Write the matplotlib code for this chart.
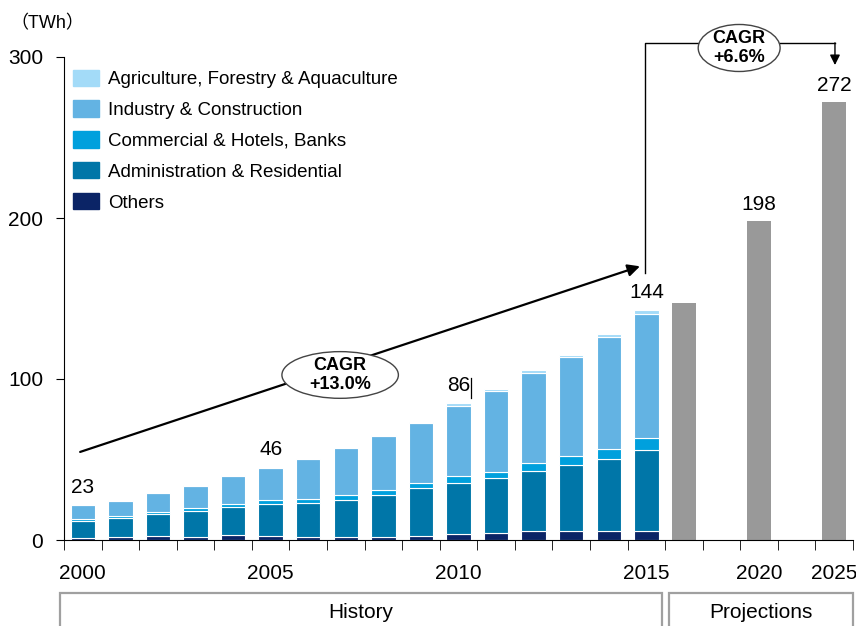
"""Vietnam electricity consumption by sector, history and projections."""

import matplotlib
matplotlib.use("Agg")
import matplotlib.pyplot as plt
import matplotlib.transforms as mtransforms
from matplotlib.patches import Ellipse, Rectangle, Patch
import numpy as np

plt.rcParams['font.family'] = ['Liberation Sans', 'Noto Sans CJK JP', 'DejaVu Sans']

# history (TWh), stacked bottom -> top
years = [str(y) for y in range(2000, 2016)]
others = [1.5, 1.6, 2.2, 2.0, 3.0, 2.4, 2.0, 2.0, 1.9, 2.4, 3.7, 4.2, 5.3, 5.3, 5.3, 5.8]
admin = [10.2, 12.0, 13.7, 16.0, 17.5, 20.0, 21.1, 23.0, 26.0, 30.2, 31.7, 34.2, 37.8, 41.2, 45.2, 50.3]
commercial = [1.6, 1.6, 1.8, 1.7, 1.9, 2.2, 2.5, 2.7, 3.2, 3.1, 4.2, 3.9, 4.8, 5.6, 6.0, 7.4]
industry = [8.2, 9.1, 11.2, 13.9, 17.6, 20.1, 24.5, 29.2, 33.4, 37.0, 43.8, 50.0, 55.7, 61.4, 69.8, 76.8]
agri = [0.4, 0.5, 0.3, 0.3, 0.3, 0.3, 0.3, 0.3, 0.5, 0.5, 1.4, 1.5, 1.7, 1.2, 1.7, 2.5]

# projections (slot index on the category axis, value)
proj_slots = [16, 18, 20]
proj_values = [147, 198, 272]

# labelled totals
hist_labels = {0: "23", 5: "46", 10: "86", 15: "144"}
proj_labels = {18: "198", 20: "272"}

tick_labels = {0: "2000", 5: "2005", 10: "2010", 15: "2015", 18: "2020", 20: "2025"}

series = [
    ("Others", others, "#0B2466"),
    ("Administration & Residential", admin, "#0076A8"),
    ("Commercial & Hotels, Banks", commercial, "#00A0DD"),
    ("Industry & Construction", industry, "#63B3E3"),
    ("Agriculture, Forestry & Aquaculture", agri, "#A3DBF8"),
]

W, H = 856, 626
fig = plt.figure(figsize=(W / 100, H / 100), dpi=100)
ax = fig.add_axes([64 / W, 1 - 540 / H, 789 / W, 483 / H])

x = np.arange(len(years))
bar_w = 0.65
bottom = np.zeros(len(years))
for name, vals, color in series:
    ax.bar(x, vals, bar_w, bottom=bottom, color=color, edgecolor="white", linewidth=0.8)
    bottom += np.array(vals)

ax.bar(proj_slots, proj_values, bar_w, color="#999999", linewidth=0)

# value labels
for i, lab in hist_labels.items():
    ax.text(i, bottom[i] + 11, lab, ha="center", va="center", fontsize=15)
for i, lab in proj_labels.items():
    v = proj_values[proj_slots.index(i)]
    ax.text(i, v + 10.5, lab, ha="center", va="center", fontsize=15)
# stray cursor mark after "86"
ax.plot([10.32, 10.32], [88.5, 100.5], color="black", lw=0.9)

# axes styling
ax.set_xlim(-0.5, 20.5)
ax.set_ylim(0, 300)
ax.spines["top"].set_visible(False)
ax.spines["right"].set_visible(False)
ax.set_yticks([0, 100, 200, 300])
ax.tick_params(axis="y", labelsize=15, length=6, pad=9, direction="out")
ax.set_xticks(list(tick_labels.keys()))
ax.set_xticklabels(list(tick_labels.values()))
ax.tick_params(axis="x", which="major", length=0, pad=17, labelsize=15)
ax.set_xticks(np.arange(-0.5, 21, 1), minor=True)
ax.tick_params(axis="x", which="minor", length=7, direction="out")

fig.text(10 / W, 1 - 24 / H, "（TWh）", fontsize=13, va="center", ha="left")

# legend (top item first)
handles = [Patch(color=c, label=n) for n, v, c in series[::-1]]
ax.legend(handles=handles, loc="upper left", bbox_to_anchor=(0.012, 0.974),
          frameon=False, fontsize=13.5, handlelength=1.35, handleheight=0.95,
          handletextpad=0.5, labelspacing=0.66, borderpad=0, borderaxespad=0)

# CAGR 2000-2015 arrow and bubble
ax.annotate("", xy=(14.83, 170), xytext=(-0.07, 54.7),
            arrowprops=dict(arrowstyle="-|>", color="black", lw=1.6, mutation_scale=18,
                            shrinkA=0, shrinkB=0))
ax.add_patch(Ellipse((6.85, 102.5), 3.1, 29, facecolor="white", edgecolor="#444444",
                     lw=1.0, zorder=5))
ax.text(6.85, 102.5, "CAGR\n+13.0%", ha="center", va="center", fontsize=13,
        fontweight="bold", linespacing=1.15, zorder=6)

# CAGR 2015-2025 elbow connector
ax.plot([14.97, 14.97, 20.02], [165.8, 308.5, 308.5], color="black", lw=1.0, clip_on=False)
ax.annotate("", xy=(20.02, 295), xytext=(20.02, 308.8),
            arrowprops=dict(arrowstyle="-|>", color="black", lw=1.0, mutation_scale=15,
                            shrinkA=0, shrinkB=0), annotation_clip=False)
e2 = Ellipse((17.47, 305.6), 2.18, 29.2, facecolor="white", edgecolor="#444444",
             lw=1.0, zorder=5, clip_on=False)
ax.add_patch(e2)
ax.text(17.47, 305.6, "CAGR\n+6.6%", ha="center", va="center", fontsize=13,
        fontweight="bold", linespacing=1.15, zorder=6, clip_on=False)

# History / Projections boxes below the axis
trans = mtransforms.blended_transform_factory(ax.transData, fig.transFigure)
box_top = 1 - 593 / H
for x0, x1, label in [(-0.61, 15.42, "History"), (15.6, 20.5, "Projections")]:
    ax.add_patch(Rectangle((x0, -0.05), x1 - x0, box_top + 0.05, transform=trans,
                           facecolor="none", edgecolor="#A0A0A0", lw=1.6, clip_on=False))
    ax.text((x0 + x1) / 2, 1 - 613 / H, label, transform=trans, ha="center",
            va="center", fontsize=15)

fig.savefig("out.png", dpi=100)
